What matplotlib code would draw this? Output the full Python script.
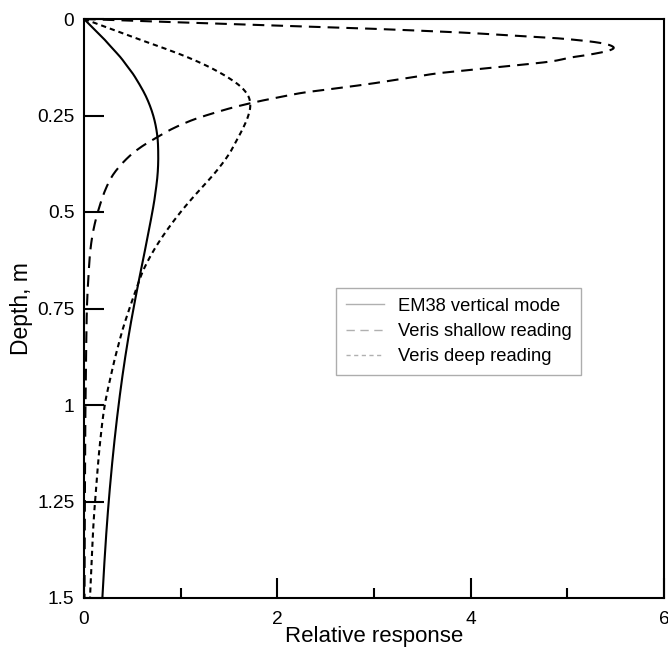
import matplotlib
matplotlib.use("Agg")
import matplotlib.pyplot as plt
from matplotlib.lines import Line2D
from matplotlib.ticker import MultipleLocator
import numpy as np

plt.rcParams['font.family'] = ['Liberation Sans', 'DejaVu Sans']

# EM38 vertical mode
em38_depth = [0, 0.025, 0.05, 0.075, 0.1, 0.125, 0.15, 0.2, 0.25, 0.3, 0.35, 0.4, 0.45, 0.5,
              0.6, 0.7, 0.8, 0.9, 1.0, 1.1, 1.2, 1.3, 1.4, 1.5]
em38_resp = [0, 0.10, 0.20, 0.29, 0.38, 0.455, 0.527, 0.64, 0.716, 0.757, 0.768, 0.762, 0.739, 0.707,
             0.63, 0.55, 0.476, 0.412, 0.358, 0.312, 0.273, 0.24, 0.213, 0.19]

# Veris shallow reading
shallow_depth = [0, 0.005, 0.01, 0.015, 0.02, 0.025, 0.03, 0.035, 0.04, 0.045, 0.05, 0.055,
                 0.06, 0.065, 0.07, 0.075, 0.08, 0.085, 0.09, 0.095, 0.1, 0.11, 0.12, 0.13,
                 0.14, 0.15, 0.16, 0.17, 0.18, 0.19, 0.2, 0.21, 0.22, 0.23, 0.24, 0.25, 0.26,
                 0.27, 0.28, 0.29, 0.3, 0.33, 0.36, 0.4, 0.44, 0.49, 0.54, 0.59, 0.65, 0.75,
                 0.9, 1.0, 1.2, 1.5]
shallow_resp = [0, 0.55, 1.15, 1.75, 2.35, 2.95, 3.45, 3.9, 4.25, 4.6, 4.9, 5.12,
                5.29, 5.4, 5.46, 5.48, 5.45, 5.38, 5.28, 5.16, 5.03, 4.83, 4.47, 4.07,
                3.68, 3.42, 3.17, 2.9, 2.6, 2.29, 2.07, 1.87, 1.69, 1.53, 1.39, 1.26, 1.14,
                1.04, 0.95, 0.87, 0.80, 0.60, 0.45, 0.31, 0.225, 0.155, 0.103, 0.07, 0.05, 0.03,
                0.02, 0.015, 0.01, 0.005]

# Veris deep reading
deep_depth = [0, 0.025, 0.05, 0.075, 0.1, 0.125, 0.15, 0.175, 0.2, 0.225, 0.25, 0.275,
              0.3, 0.35, 0.4, 0.45, 0.5, 0.55, 0.6, 0.65, 0.7, 0.75, 0.8, 0.85, 0.9, 1.0,
              1.1, 1.2, 1.3, 1.4, 1.5]
deep_resp = [0, 0.27, 0.54, 0.82, 1.08, 1.30, 1.48, 1.62, 1.70, 1.72, 1.70, 1.66,
             1.61, 1.50, 1.35, 1.17, 1.00, 0.85, 0.72, 0.615, 0.54, 0.47, 0.405, 0.35, 0.30, 0.215,
             0.165, 0.13, 0.10, 0.08, 0.062]

x_ticks = [0, 2, 4, 6]
y_ticks = [0, 0.25, 0.5, 0.75, 1, 1.25, 1.5]
y_tick_labels = ["0", "0.25", "0.5", "0.75", "1", "1.25", "1.5"]
labels = ["EM38 vertical mode", "Veris shallow reading", "Veris deep reading"]


def smooth(xs, ys, n=12):
    """Catmull-Rom curve through the read points (visual smoothing only)."""
    p = np.column_stack([xs, ys]).astype(float)
    p = np.vstack([2 * p[0] - p[1], p, 2 * p[-1] - p[-2]])
    out = []
    t = np.linspace(0, 1, n, endpoint=False)[:, None]
    for i in range(1, len(p) - 2):
        p0, p1, p2, p3 = p[i - 1], p[i], p[i + 1], p[i + 2]
        seg = 0.5 * ((2 * p1) + (-p0 + p2) * t + (2 * p0 - 5 * p1 + 4 * p2 - p3) * t ** 2
                     + (-p0 + 3 * p1 - 3 * p2 + p3) * t ** 3)
        out.append(seg)
    out.append(p[-2][None, :])
    out = np.vstack(out)
    return out[:, 0], out[:, 1]


fig = plt.figure(figsize=(6.68, 6.5), dpi=100)
ax = fig.add_axes([84/668, 1-598/650, 580/668, 579/650])

lw = 1.5
x, y = smooth(em38_resp, em38_depth)
ax.plot(x, y, color='black', lw=lw, solid_capstyle='butt')
x, y = smooth(shallow_resp, shallow_depth)
ax.plot(x, y, color='black', lw=lw, dashes=(5.6, 3.4))
x, y = smooth(deep_resp, deep_depth)
ax.plot(x, y, color='black', lw=lw, dashes=(2.5, 1.9))

ax.set_xlim(0, 6)
ax.set_ylim(1.5, 0)
ax.set_xticks(x_ticks)
ax.set_xticklabels([str(t) for t in x_ticks])
ax.xaxis.set_minor_locator(MultipleLocator(1))
ax.set_yticks(y_ticks)
ax.set_yticklabels(y_tick_labels)

ax.tick_params(axis='x', which='major', direction='in', length=14.4, width=1.5,
               labelsize=13.8, pad=9, top=False)
ax.tick_params(axis='x', which='minor', direction='in', length=7.2, width=1.5, top=False)
ax.tick_params(axis='y', which='major', direction='in', length=14.4, width=1.5,
               labelsize=13.8, pad=7, right=False)
for s in ax.spines.values():
    s.set_linewidth(1.5)

ax.set_xlabel("Relative response", fontsize=16, labelpad=-1)
ax.set_ylabel("Depth, m", fontsize=16.5, labelpad=3)

handles = [Line2D([], [], color='#b0b0b0', lw=1),
           Line2D([], [], color='#b0b0b0', lw=1, dashes=(6, 4)),
           Line2D([], [], color='#b0b0b0', lw=1, dashes=(3, 2.5))]
leg = ax.legend(handles, labels, loc='upper left', bbox_to_anchor=((336-84)/580, (598-288)/579),
                fontsize=13.2, frameon=True, fancybox=False, edgecolor='#999999',
                borderpad=0.53, handlelength=2.1, handletextpad=0.75, labelspacing=0.45,
                borderaxespad=0)
leg.get_frame().set_linewidth(1.0)

fig.savefig("out.png", dpi=100)
